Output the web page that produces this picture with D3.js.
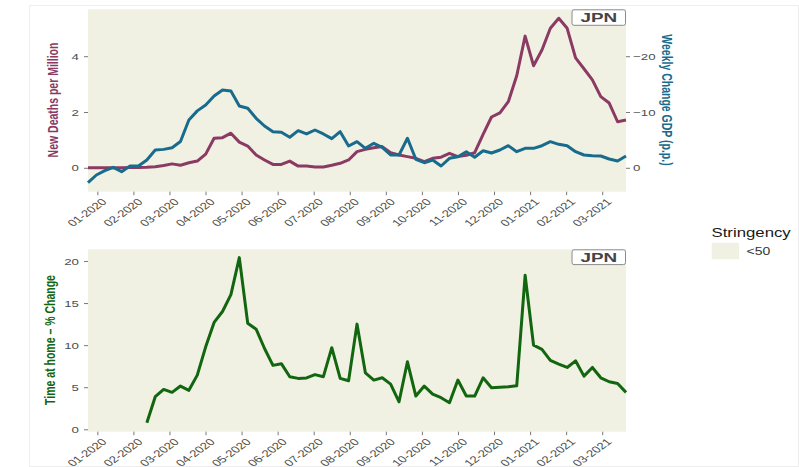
<!DOCTYPE html>
<html>
<head>
<meta charset="utf-8">
<script src="https://cdn.jsdelivr.net/npm/d3@7"></script>
<style>
  body { margin: 0; background: #ffffff; }
  svg { display: block; font-family: "Liberation Sans", Arial, sans-serif; }
</style>
</head>
<body>
<svg id="chart" width="799" height="467"></svg>
<script>
// ---- data (weekly observations, Japan) ----
const monthLabels = ["01-2020", "02-2020", "03-2020", "04-2020", "05-2020", "06-2020", "07-2020",
  "08-2020", "09-2020", "10-2020", "11-2020", "12-2020", "01-2021", "02-2021", "03-2021"];
// label positions on the week axis
const monthTickWeeks = [1.11, 5.40, 9.69, 13.98, 18.27, 22.56, 26.85, 31.14, 35.43, 39.72,
  44.01, 48.30, 52.59, 56.88, 61.17];

const newDeaths = [0, 0, 0, 0, 0, 0.01, 0.01, 0.02, 0.04, 0.08, 0.14, 0.09, 0.18, 0.24, 0.49, 1.06,
  1.08, 1.24, 0.92, 0.78, 0.46, 0.28, 0.12, 0.12, 0.24, 0.06, 0.06, 0.03, 0.03, 0.09, 0.16, 0.28,
  0.58, 0.66, 0.72, 0.76, 0.54, 0.46, 0.40, 0.34, 0.22, 0.34, 0.38, 0.52, 0.40, 0.45, 0.54, 1.20,
  1.82, 1.97, 2.37, 3.30, 4.72, 3.66, 4.22, 5.00, 5.36, 5.00, 3.94, 3.55, 3.15, 2.55, 2.32, 1.65, 1.71];

const gdpChange = [2.66, 1.29, 0.52, -0.08, 0.69, -0.32, -0.32, -1.40, -3.19, -3.30, -3.60, -4.70,
  -8.57, -10.20, -11.25, -12.87, -13.94, -13.76, -11.08, -10.66, -8.87, -7.49, -6.47, -6.36, -5.47,
  -6.65, -6.06, -6.77, -6.06, -5.22, -6.47, -3.90, -4.68, -3.49, -4.39, -3.67, -2.29, -2.29, -5.29,
  -1.52, -0.91, -1.40, -0.32, -1.70, -1.99, -2.89, -1.88, -3.06, -2.65, -3.19, -3.96, -2.89, -3.49,
  -3.49, -3.96, -4.68, -4.20, -3.96, -2.89, -2.29, -2.17, -2.11, -1.58, -1.22, -2.11];

const timeAtHome = [null, null, null, null, null, null, null, 0.78, 3.87, 4.74, 4.39, 5.14, 4.63,
  6.44, 9.8, 12.7, 14.0, 16.0, 20.4, 12.6, 11.9, 9.6, 7.6, 7.8, 6.25, 6.05, 6.1, 6.5, 6.25, 9.7,
  6.05, 5.77, 12.5, 6.7, 5.85, 6.12, 5.37, 3.27, 8.02, 3.95, 5.14, 4.19, 3.75, 3.16, 5.85, 3.95,
  3.95, 6.12, 4.94, 5.0, 5.05, 5.17, 18.3, 10.0, 9.5, 8.2, 7.75, 7.35, 8.14, 6.32, 7.35, 6.12,
  5.65, 5.45, 4.39];

const deathTicks = [0, 2, 4];
const gdpTicks = [0, -10, -20];
const homeTicks = [0, 5, 10, 15, 20];
const countryCode = "JPN";
const legendTitle = "Stringency";
const legendLabel = "<50";

// ---- styling ----
const PANEL_BG = "#f1f1e3";
const C_DEATHS = "#8b3a63";
const C_GDP = "#186b8c";
const C_HOME = "#11660f";
const TICK_TXT = "#4d4d4d";
const SX = 1.4;   // horizontal text stretch used throughout the figure

const svg = d3.select("#chart");
const weeks = d3.range(newDeaths.length);

const left = 88, right = 626;
const top1 = 9.3, bot1 = 191.7;
const top2 = 249.3, bot2 = 431.7;

const x = d3.scaleLinear().domain([0, weeks.length - 1]).range([left, right]);
const yDeaths = d3.scaleLinear().domain([-0.857, 5.681]).range([bot1, top1]);
const yGdp = d3.scaleLinear().domain([4.285, -28.405]).range([bot1, top1]);
const yHome = d3.scaleLinear().domain([-0.285, 21.39]).range([bot2, top2]);

// faint outer frame
svg.append("rect").attr("x", 29.5).attr("y", 5.5).attr("width", 769).attr("height", 461)
  .attr("fill", "none").attr("stroke", "#eeeeee");

function panel(y0, y1) {
  svg.append("rect").attr("x", left).attr("y", y0).attr("width", right - left).attr("height", y1 - y0)
    .attr("fill", PANEL_BG);
}
panel(top1, bot1);
panel(top2, bot2);

function styleAxis(g, fs) {
  g.select(".domain").remove();
  g.selectAll(".tick line").attr("stroke", "#555").attr("stroke-width", 0.8);
  g.selectAll(".tick text").attr("fill", TICK_TXT).attr("font-size", fs);
}
function stretchYLabels(g) {
  g.selectAll(".tick text").each(function () {
    const t = d3.select(this);
    t.attr("x", (+t.attr("x")) / SX).attr("transform", `scale(${SX},1)`);
  });
}
function xAxis(yPos) {
  const g = svg.append("g").attr("transform", `translate(0,${yPos})`)
    .call(d3.axisBottom(x).tickValues(monthTickWeeks).tickSize(3.5)
      .tickFormat((d, i) => monthLabels[i]));
  styleAxis(g, 9.5);
  g.selectAll(".tick text")
    .attr("text-anchor", "end").attr("x", 0).attr("y", 0).attr("dy", "0.71em")
    .attr("transform", `translate(3,6) scale(${SX},1) rotate(-45)`);
}

const intFmt = d3.format("d");

// axes
const gL1 = svg.append("g").attr("transform", `translate(${left},0)`)
  .call(d3.axisLeft(yDeaths).tickValues(deathTicks).tickFormat(intFmt).tickSize(4).tickPadding(5));
styleAxis(gL1, 9.5); stretchYLabels(gL1);

const gR1 = svg.append("g").attr("transform", `translate(${right},0)`)
  .call(d3.axisRight(yGdp).tickValues(gdpTicks).tickFormat(intFmt).tickSize(4).tickPadding(3));
styleAxis(gR1, 9.5); stretchYLabels(gR1);

const gL2 = svg.append("g").attr("transform", `translate(${left},0)`)
  .call(d3.axisLeft(yHome).tickValues(homeTicks).tickFormat(intFmt).tickSize(4).tickPadding(5));
styleAxis(gL2, 9.5); stretchYLabels(gL2);

xAxis(bot1);
xAxis(bot2);

// lines
const lineDeaths = d3.line().x(i => x(i)).y(i => yDeaths(newDeaths[i]));
const lineGdp = d3.line().x(i => x(i)).y(i => yGdp(gdpChange[i]));
const lineHome = d3.line().defined(i => timeAtHome[i] != null).x(i => x(i)).y(i => yHome(timeAtHome[i]));

function drawLine(gen, color) {
  svg.append("path").datum(weeks).attr("d", gen)
    .attr("fill", "none").attr("stroke", color).attr("stroke-width", 3)
    .attr("stroke-linejoin", "round").attr("stroke-linecap", "butt");
}
drawLine(lineDeaths, C_DEATHS);
drawLine(lineGdp, C_GDP);
drawLine(lineHome, C_HOME);

// country tags
function tag(yTop, h) {
  const w = 53.5, x0 = right - 0.5 - w;
  svg.append("rect").attr("x", x0).attr("y", yTop).attr("width", w).attr("height", h)
    .attr("rx", 2).attr("fill", "#ffffff").attr("stroke", "#8a8a8a").attr("stroke-width", 1);
  svg.append("text").text(countryCode)
    .attr("transform", `translate(${x0 + w / 2},${yTop + h / 2}) scale(${SX},1)`)
    .attr("text-anchor", "middle").attr("dy", "0.36em")
    .attr("font-size", 13.5).attr("font-weight", "bold").attr("fill", "#444444");
}
tag(9.8, 15.5);
tag(249.8, 14.8);

// axis titles
function title(txt, cx, cy, rot, color) {
  svg.append("text").text(txt)
    .attr("transform", `translate(${cx},${cy}) scale(${SX},1) rotate(${rot})`)
    .attr("text-anchor", "middle").attr("dy", "0.35em")
    .attr("font-size", 10.5).attr("font-weight", "bold").attr("fill", color);
}
title("New Deaths per Million", 52.5, 100, -90, C_DEATHS);
title("Weekly Change GDP (p.p.)", 667, 100, 90, C_GDP);
title("Time at home \u2013 % Change", 50, 340, -90, C_HOME);

// legend
svg.append("text").text(legendTitle)
  .attr("transform", `translate(711.5,237.3) scale(${SX},1)`)
  .attr("font-size", 12).attr("fill", "#1a1a1a");
svg.append("rect").attr("x", 711.7).attr("y", 242.7).attr("width", 27.3).attr("height", 16.6)
  .attr("fill", PANEL_BG);
svg.append("text").text(legendLabel)
  .attr("transform", `translate(746.5,251.7) scale(${SX},1)`)
  .attr("dy", "0.35em").attr("font-size", 10).attr("fill", "#333333");
</script>
</body>
</html>
